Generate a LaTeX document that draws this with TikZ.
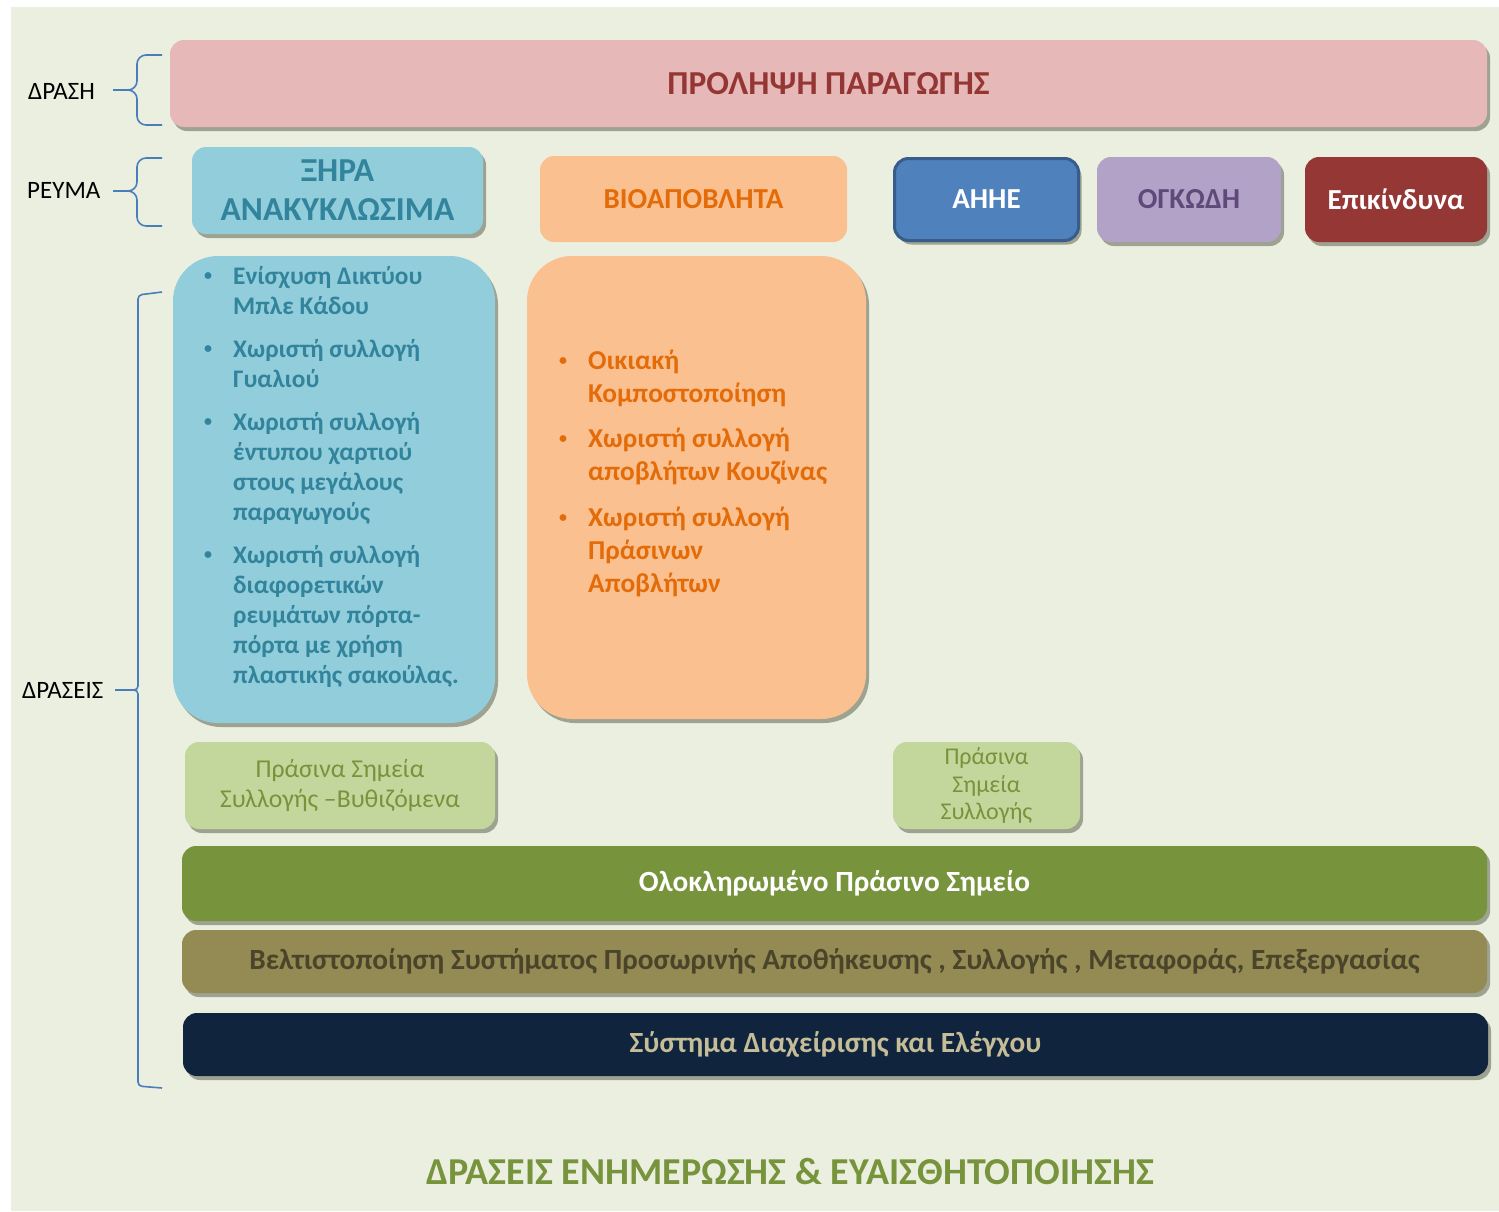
\documentclass[tikz,border=0pt]{standalone}
\usepackage{fontspec}
\setmainfont{Carlito}
\usetikzlibrary{shadows}
\definecolor{bgc}{HTML}{EBEFDF}
\definecolor{shadowc}{HTML}{7E8270}
\definecolor{bracec}{HTML}{4A7EBB}
\definecolor{pinkc}{HTML}{E6B8B7}
\definecolor{pinkt}{HTML}{943634}
\definecolor{skyc}{HTML}{92CDDC}
\definecolor{skyt}{HTML}{31849B}
\definecolor{orc}{HTML}{FAC090}
\definecolor{ort}{HTML}{E36C09}
\definecolor{bluec}{HTML}{4F81BD}
\definecolor{blued}{HTML}{385D8A}
\definecolor{lilac}{HTML}{B3A2C7}
\definecolor{lilact}{HTML}{5F497A}
\definecolor{redc}{HTML}{953735}
\definecolor{lgreen}{HTML}{C3D69B}
\definecolor{greent}{HTML}{77933C}
\definecolor{khaki}{HTML}{948A54}
\definecolor{khakit}{HTML}{4A452A}
\definecolor{navy}{HTML}{10243E}
\definecolor{tan}{HTML}{C4BD97}
\newcommand{\dotitem}{\raisebox{3.5pt}{\fontsize{16}{16}\selectfont\textbullet}}
\tikzset{
  bar/.style={rounded corners=14pt,inner sep=0pt,align=center,
    font=\bfseries\fontsize{29}{34}\selectfont},
  shade/.style={drop shadow={shadow xshift=3pt,shadow yshift=-4pt,
    fill=shadowc,opacity=.7}},
  bigbox/.style={rounded corners=45pt,inner sep=0pt},
  lbl/.style={anchor=west,inner sep=0pt,font=\fontsize{25}{30}\selectfont},
  bracel/.style={draw=bracec,line width=1.6pt,rounded corners=9pt},
}
\begin{document}
\begin{tikzpicture}[x=1pt,y=-1pt]
\useasboundingbox (0,0) rectangle (1499,1211);
\fill[white] (0,0) rectangle (1499,1211);
\fill[bgc] (11,7) rectangle (1499,1211);
% labels and braces
\node[lbl] (drasi) at (28,91) {ΔΡΑΣΗ};
\node[lbl] (revma) at (27,190) {ΡΕΥΜΑ};
\node[lbl] (draseis) at (22,690) {ΔΡΑΣΕΙΣ};
\draw[bracel] (162,55)--(137,55)--(137,90)--(113,90);
\draw[bracel] (162,125)--(137,125)--(137,90)--(113,90);
\draw[bracel] (162,158)--(137,158)--(137,191)--(113,191);
\draw[bracel] (162,226)--(137,226)--(137,191)--(113,191);
\draw[bracel,rounded corners=4pt] (162,292)--(138,295)--(138,690)--(115,690);
\draw[bracel,rounded corners=4pt] (162,1088)--(138,1086)--(138,690)--(115,690);
% first row
\node[bar,shade,fill=pinkc,text=pinkt,minimum width=1317,minimum height=87,
  font=\bfseries\fontsize{33.5}{40}\selectfont] (prolipsi) at (828.5,83.5) {ΠΡΟΛΗΨΗ ΠΑΡΑΓΩΓΗΣ};
% streams
\node[bar,shade,fill=skyc,text=skyt,minimum width=291,minimum height=87,
  font=\bfseries\fontsize{33.5}{39}\selectfont] (xira) at (337.5,190.5) {ΞΗΡΑ\\ΑΝΑΚΥΚΛΩΣΙΜΑ};
\node[bar,fill=orc,text=ort,minimum width=307,minimum height=86] (bio) at (693.5,199) {ΒΙΟΑΠΟΒΛΗΤΑ};
\node[bar,shade,fill=bluec,draw=blued,line width=3pt,text=white,minimum width=184,
  minimum height=82] (ahhe) at (986.5,199.5) {ΑΗΗΕ};
\node[bar,shade,fill=lilac,text=lilact,minimum width=184,minimum height=85] (ogkodi) at (1189,199.5) {ΟΓΚΩΔΗ};
\node[bar,shade,fill=redc,text=white,minimum width=182,minimum height=85] (epik) at (1396,199.5) {Επικίνδυνα};
% actions
\node[bigbox,shade,fill=skyc,minimum width=322,minimum height=467] (xirabox) at (334,489.5) {};
\node[anchor=base west,inner sep=0pt,text=skyt,font=\bfseries\fontsize{25.3}{30}\selectfont] (xiralist) at (204,284)
{\begin{tabular}[t]{@{}p{29pt}@{}l@{}}
\dotitem & Ενίσχυση Δικτύου\\
 & Μπλε Κάδου\\[13pt]
\dotitem & Χωριστή συλλογή\\
 & Γυαλιού\\[13pt]
\dotitem & Χωριστή συλλογή\\
 & έντυπου χαρτιού\\
 & στους μεγάλους\\
 & παραγωγούς\\[13pt]
\dotitem & Χωριστή συλλογή\\
 & διαφορετικών\\
 & ρευμάτων πόρτα-\\
 & πόρτα με χρήση\\
 & πλαστικής σακούλας.
\end{tabular}};
\node[bigbox,shade,fill=orc,minimum width=339,minimum height=463] (biobox) at (696.5,487.5) {};
\node[anchor=base west,inner sep=0pt,text=ort,font=\bfseries\fontsize{27.3}{33}\selectfont] (biolist) at (559,369)
{\begin{tabular}[t]{@{}p{29pt}@{}l@{}}
\dotitem & Οικιακή\\
 & Κομποστοποίηση\\[12pt]
\dotitem & Χωριστή συλλογή\\
 & αποβλήτων Κουζίνας\\[13pt]
\dotitem & Χωριστή συλλογή\\
 & Πράσινων\\
 & Αποβλήτων
\end{tabular}};
% green points
\node[bar,shade,fill=lgreen,text=greent,minimum width=310,minimum height=87,
  font=\fontsize{25.7}{30}\selectfont] (vythiz) at (340,785.5) {Πράσινα Σημεία\\Συλλογής –Βυθιζόμενα};
\node[bar,shade,fill=lgreen,text=greent,minimum width=187,minimum height=87,
  font=\fontsize{24}{27.5}\selectfont] (simeia) at (986.5,785.5) {Πράσινα\\Σημεία\\Συλλογής};
% bottom bars
\node[bar,shade,fill=greent,text=white,minimum width=1305,minimum height=75,
  font=\bfseries\fontsize{29.3}{34}\selectfont] (olokl) at (834.5,883.5) {Ολοκληρωμένο Πράσινο Σημείο};
\node[bar,shade,fill=khaki,text=khakit,minimum width=1305,minimum height=63,
  font=\bfseries\fontsize{29.3}{34}\selectfont] (veltist) at (834.5,961.5)
  {Βελτιστοποίηση Συστήματος Προσωρινής Αποθήκευσης , Συλλογής , Μεταφοράς, Επεξεργασίας};
\node[bar,shade,fill=navy,text=tan,minimum width=1305,minimum height=63,
  font=\bfseries\fontsize{29.3}{34}\selectfont] (systima) at (835.5,1044.5) {Σύστημα Διαχείρισης και Ελέγχου};
\node[text=greent,font=\bfseries\fontsize{38}{44}\selectfont] (enim) at (790,1172) {ΔΡΑΣΕΙΣ ΕΝΗΜΕΡΩΣΗΣ \& ΕΥΑΙΣΘΗΤΟΠΟΙΗΣΗΣ};
\end{tikzpicture}
\end{document}
